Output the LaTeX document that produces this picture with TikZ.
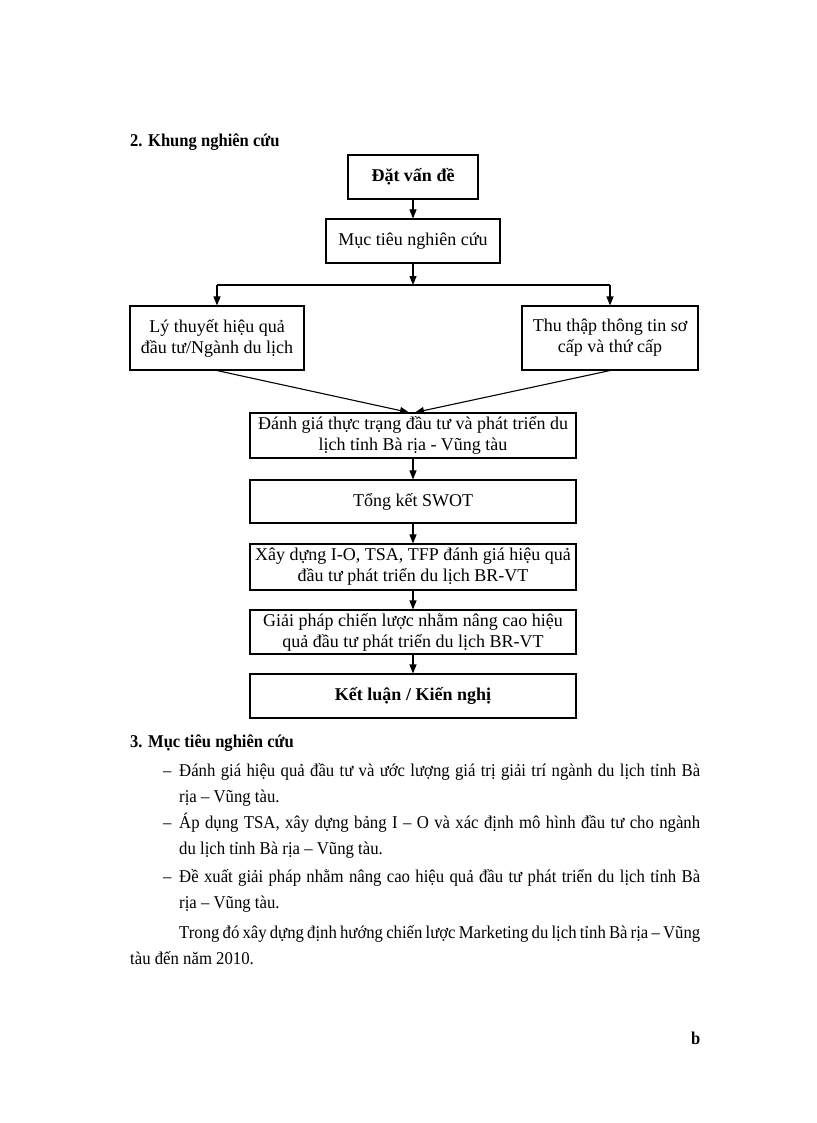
\documentclass[tikz,border=0pt]{standalone}
\usepackage{fontspec}
\setmainfont{Liberation Serif}
\newfontfamily\bodyfont[FakeStretch=0.93]{Liberation Serif}
\newfontfamily\headfont[FakeStretch=0.92]{Liberation Serif}
\usetikzlibrary{arrows.meta}
\newcommand\fsz{\fontsize{18}{21}\selectfont}
\newcommand\bsz{\bodyfont\fontsize{18}{21}\selectfont}
\newcommand\hsz{\headfont\bfseries\fontsize{18}{21}\selectfont}
\newcommand\jline[1]{\makebox[521pt][s]{#1}}
\begin{document}
\begin{tikzpicture}[x=1pt,y=-1pt,
  box/.style={draw, line width=1.1pt, rectangle, inner sep=0pt, align=center, font=\fsz},
  arr/.style={-{Triangle[length=9pt,width=7pt]}, line width=1.1pt},
  ln/.style={line width=1.1pt},
  txt/.style={anchor=base west, inner sep=0pt, font=\bsz}]
\fill[white] (0,0) rectangle (816,1123);
\useasboundingbox (0,0) rectangle (816,1123);

% heading
\node[txt, font=\hsz] (h2) at (130,147) {2. Khung nghiên cứu};

% flowchart boxes
\node[box, font=\fsz\bfseries, minimum width=130pt, minimum height=44pt] (dat) at (413,177) {Đặt vấn đề};
\node[box, minimum width=174pt, minimum height=44pt] (muc) at (413,241) {Mục tiêu nghiên cứu};
\node[box, minimum width=174pt, minimum height=64pt] (ly) at (217,338) {Lý thuyết hiệu quả\\đầu tư/Ngành du lịch};
\node[box, minimum width=176pt, minimum height=64pt] (thu) at (610,338) {Thu thập thông tin sơ\\cấp và thứ cấp};
\node[box, minimum width=326pt, minimum height=45pt] (danh) at (413,435.5) {Đánh giá thực trạng đầu tư và phát triển du\\lịch tỉnh Bà rịa - Vũng tàu};
\node[box, minimum width=326pt, minimum height=43pt] (tong) at (413,501.5) {Tổng kết SWOT};
\node[box, minimum width=326pt, minimum height=46pt] (xay) at (413,567) {Xây dựng I-O, TSA, TFP đánh giá hiệu quả\\đầu tư phát triển du lịch BR-VT};
\node[box, minimum width=326pt, minimum height=44pt] (giai) at (413,632) {Giải pháp chiến lược nhằm nâng cao hiệu\\quả đầu tư phát triển du lịch BR-VT};
\node[box, font=\fsz\bfseries, minimum width=326pt, minimum height=44pt] (ket) at (413,696) {Kết luận / Kiến nghị};

% connectors
\coordinate (sp) at (413,285);
\coordinate (spl) at (217,285);
\coordinate (spr) at (610,285);
\draw[arr] (dat) -- (muc);
\draw[arr] (muc) -- (sp);
\draw[ln] (spl) -- (spr);
\draw[arr] (spl) -- (ly);
\draw[arr] (spr) -- (thu);
\draw[arr] (ly.south) -- ([xshift=-4pt]danh.north);
\draw[arr] (thu.south) -- ([xshift=2pt]danh.north);
\draw[arr] (danh) -- (tong);
\draw[arr] (tong) -- (xay);
\draw[arr] (xay) -- (giai);
\draw[arr] (giai) -- (ket);

% section 3
\node[txt, font=\hsz] (h3) at (130,747) {3. Mục tiêu nghiên cứu};
\node[txt] (d1) at (163,776) {–};
\node[txt] (l1a) at (179,776) {\jline{Đánh giá hiệu quả đầu tư và ước lượng giá trị giải trí ngành du lịch tỉnh Bà}};
\node[txt] (l1b) at (179,802) {rịa – Vũng tàu.};
\node[txt] (d2) at (163,828) {–};
\node[txt] (l2a) at (179,828) {\jline{Áp dụng TSA, xây dựng bảng I – O và xác định mô hình đầu tư cho ngành}};
\node[txt] (l2b) at (179,854) {du lịch tỉnh Bà rịa – Vũng tàu.};
\node[txt] (d3) at (163,882) {–};
\node[txt] (l3a) at (179,882) {\jline{Đề xuất giải pháp nhằm nâng cao hiệu quả đầu tư phát triển du lịch tỉnh Bà}};
\node[txt] (l3b) at (179,908) {rịa – Vũng tàu.};
\node[txt] (p1) at (179,938) {\jline{Trong đó xây dựng định hướng chiến lược Marketing du lịch tỉnh Bà rịa – Vũng}};
\node[txt] (p2) at (130,964) {tàu đến năm 2010.};

% page mark
\node[txt, font=\hsz] (pg) at (691,1044) {b};
\end{tikzpicture}
\end{document}
